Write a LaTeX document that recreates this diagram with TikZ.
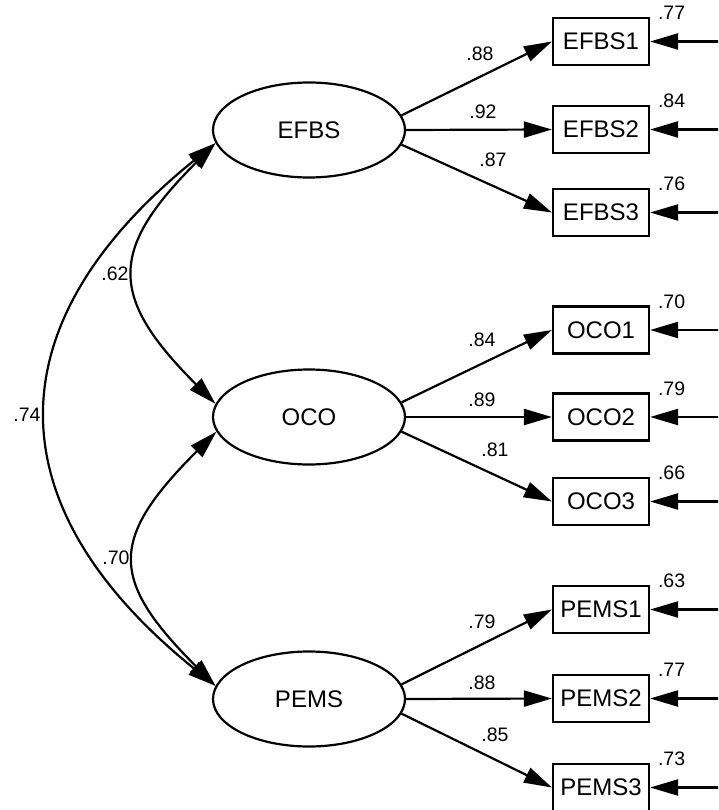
\documentclass[tikz,border=0pt]{standalone}
\usepackage{fontspec}
\setmainfont{Liberation Sans}
\usetikzlibrary{arrows.meta,shapes.geometric}

\begin{document}
\begin{tikzpicture}[x=1pt,y=-1pt,
  latent/.style={draw,ellipse,line width=2.2pt,minimum width=192pt,minimum height=95pt,
    inner sep=0pt,font=\fontsize{24}{28}\selectfont},
  observed/.style={draw,rectangle,line width=2.2pt,minimum width=96pt,minimum height=47pt,
    inner sep=0pt,fill=white,font=\fontsize{24}{28}\selectfont},
  coef/.style={inner sep=0pt,font=\fontsize{19.5}{22}\selectfont},
  tipstyle/.style={line width=2.2pt},
  loading/.style={tipstyle,-{Triangle[length=28pt,width=16pt]}},
  cov/.style={tipstyle,{Triangle[length=28pt,width=16pt]}-{Triangle[length=28pt,width=16pt]}},
]
\useasboundingbox (0,0) rectangle (718,810);
\clip (0,0) rectangle (718,810);

% latent factors
\node[latent] (efbs) at (309,130) {EFBS};
\node[latent] (oco)  at (309,417) {OCO};
\node[latent] (pems) at (309,699) {PEMS};

% indicators
\node[observed] (e1) at (601,41.5)  {EFBS1};
\node[observed] (e2) at (601,129.5) {EFBS2};
\node[observed] (e3) at (601,212.5) {EFBS3};
\node[observed] (o1) at (601,330)   {OCO1};
\node[observed] (o2) at (601,417)   {OCO2};
\node[observed] (o3) at (601,501.5) {OCO3};
\node[observed] (p1) at (601,609.5) {PEMS1};
\node[observed] (p2) at (601,698.5) {PEMS2};
\node[observed] (p3) at (601,787.5) {PEMS3};

% factor loadings
\foreach \f/\a/\b/\c in {efbs/e1/e2/e3, oco/o1/o2/o3, pems/p1/p2/p3}{
  \draw[loading] (\f.9) -- (\a.west);
  \draw[loading] (\f.east) -- (\b.west);
  \draw[loading] (\f.-9) -- (\c.west);
}

% error terms entering from the right
\foreach \b in {e1,e2,e3,o1,o2,o3,p1,p2,p3}{
  \coordinate (err-\b) at (\b.east -| 722,0);
  \draw[loading] (err-\b) -- (\b.east);
}

% factor covariances
\draw[cov] (efbs.188) .. controls +(-107,107) and +(-107,-107) .. (oco.172);
\draw[cov] (oco.189) .. controls +(-107,107) and +(-107,-107) .. (pems.172);
\draw[cov] (efbs.188) .. controls +(-223,180) and +(-223,-180) .. (pems.172);

% loading coefficients
\node[coef] at (480,54)  {.88};
\node[coef] at (483,112) {.92};
\node[coef] at (493,160) {.87};
\node[coef] at (482,340) {.84};
\node[coef] at (482,400) {.89};
\node[coef] at (495,450) {.81};
\node[coef] at (482,622) {.79};
\node[coef] at (482,683) {.88};
\node[coef] at (495,735) {.85};

% squared multiple correlations
\foreach \b/\v in {e1/.77,e2/.84,e3/.76,o1/.70,o2/.79,o3/.66,p1/.63,p2/.77,p3/.73}{
  \node[coef] at ([shift={(21.5,-4)}]\b.north east) {\v};
}

% covariance coefficients
\node[coef] at (115,274) {.62};
\node[coef] at (116,558) {.70};
\node[coef] at (27,415)  {.74};
\end{tikzpicture}
\end{document}
